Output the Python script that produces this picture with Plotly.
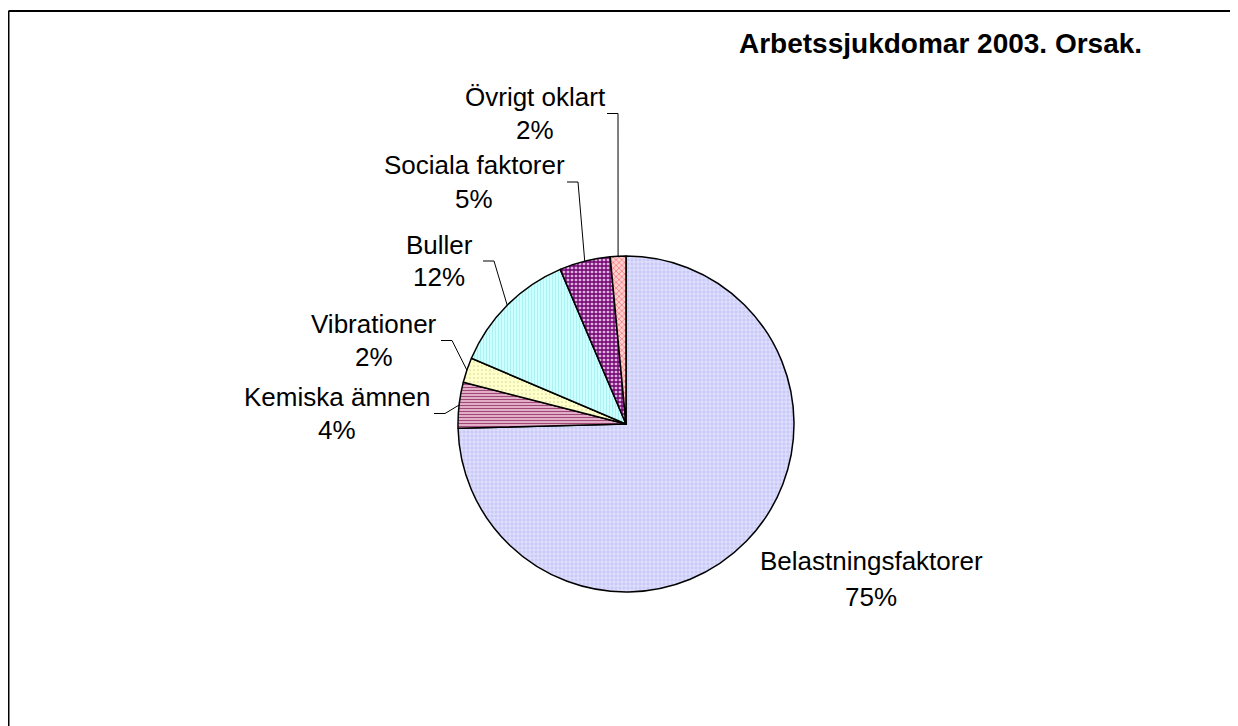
import math
import plotly.graph_objects as go

# ---- data ----
categories = ["Belastningsfaktorer", "Kemiska ämnen", "Vibrationer", "Buller",
              "Sociala faktorer", "Övrigt oklart"]
values = [74.6, 4.4, 2.4, 12.2, 4.9, 1.5]
title_text = "Arbetssjukdomar 2003. Orsak."

# ---- styling ----
OFF = 8                      # page body margin
W, H = 1238 - OFF, 726 - OFF
bg_colors = ["#CACAF8", "#EFC2D8", "#FFFFCC", "#CCFFFF", "#DDB0DD", "#FFD0D0"]
fg_colors = ["#F0F0FF", "#A04878", "#E6E6A8", "#A8F0F0", "#700070", "#F07878"]
shapes_pat = ["+", "-", ".", "|", "+", "x"]
pat_size = [4, 3, 4, 3, 4, 4]
pat_solid = [0.3, 0.45, 0.2, 0.3, 0.55, 0.35]

cx, cy, R = 626, 424, 168  # pie centre / radius in screen pixels

# label: (centre x, line1 y, line2 y, leader start x)  ; None = no leader
label_pos = {
    "Belastningsfaktorer": (871, 561, 597, None),
    "Kemiska ämnen": (337, 397, 430, 434),
    "Vibrationer": (374, 324, 357, 441),
    "Buller": (439, 245, 277, 483),
    "Sociala faktorer": (474, 165, 199, 567),
    "Övrigt oklart": (535, 97, 130, 607),
}
FONT = "Liberation Sans, Arial, sans-serif"
FS = 26


def px(x):
    return (x - OFF) / W


def py(y):
    return 1 - (y - OFF) / H


fig = go.Figure(go.Pie(
    labels=categories,
    values=values,
    sort=False,
    direction="clockwise",
    rotation=0,
    textinfo="none",
    hoverinfo="label+percent",
    marker=dict(
        colors=bg_colors,
        line=dict(color="black", width=1.5),
        pattern=dict(shape=shapes_pat, fgcolor=fg_colors, bgcolor=bg_colors,
                     size=pat_size, solidity=pat_solid, fillmode="replace"),
    ),
    domain=dict(x=[px(cx - R), px(cx + R)], y=[py(cy + R), py(cy - R)]),
    showlegend=False,
))

total = sum(values)
annotations = []
shapes = []
cum = 0.0
for cat, v in zip(categories, values):
    mid = (cum + v / 2) / total
    cum += v
    theta = 2 * math.pi * mid
    ex = cx + R * math.sin(theta)
    ey = cy - R * math.cos(theta)
    lx, y1, y2, sx = label_pos[cat]
    pct = round(v / total * 100)
    for txt, yy in ((cat, y1), (f"{pct}%", y2)):
        annotations.append(dict(
            x=px(lx), y=py(yy), xref="paper", yref="paper",
            text=txt, showarrow=False,
            xanchor="center", yanchor="middle", align="center",
            font=dict(family=FONT, size=FS, color="black"),
        ))
    if sx is not None:
        ly = (y1 + y2) / 2
        hx = min(sx + 11, ex) if ex > sx else sx
        path = (f"M {px(sx)} {py(ly)} L {px(hx)} {py(ly)} "
                f"L {px(ex)} {py(ey)}")
        shapes.append(dict(type="path", xref="paper", yref="paper", path=path,
                           line=dict(color="black", width=1)))

annotations.append(dict(
    x=px(940), y=py(43), xref="paper", yref="paper", text=f"<b>{title_text}</b>",
    showarrow=False, xanchor="center", yanchor="middle",
    font=dict(family=FONT, size=28, color="black"),
))

# chart frame (top and left edges visible)
shapes.append(dict(type="line", xref="paper", yref="paper",
                   x0=px(8.5), x1=1.0, y0=py(11), y1=py(11),
                   line=dict(color="black", width=2)))
shapes.append(dict(type="line", xref="paper", yref="paper",
                   x0=px(8.5), x1=px(8.5), y0=py(11), y1=0.0,
                   line=dict(color="black", width=2)))

fig.update_layout(
    width=W, height=H,
    margin=dict(l=0, r=0, t=0, b=0),
    paper_bgcolor="white", plot_bgcolor="white",
    annotations=annotations, shapes=shapes,
    font=dict(family=FONT),
)

fig.write_html("out.html")
